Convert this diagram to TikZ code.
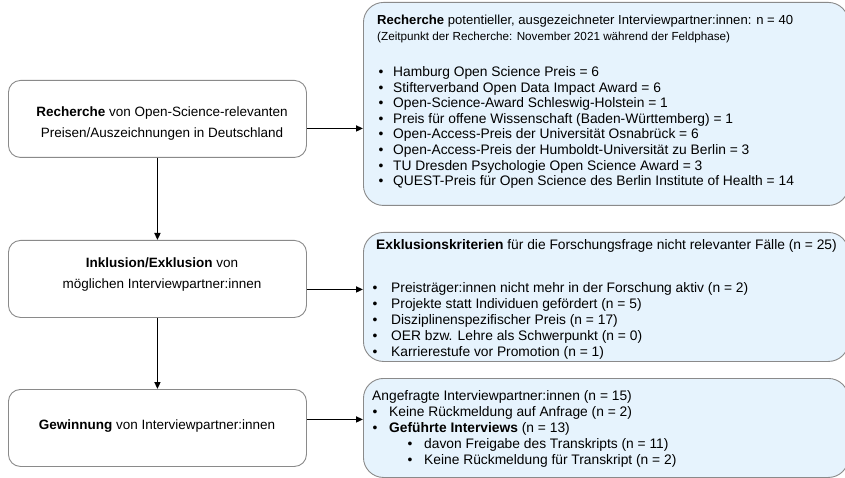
\documentclass[tikz,border=0pt]{standalone}
\usepackage{fontspec}
\setmainfont{Liberation Sans}
\usetikzlibrary{arrows.meta}
\definecolor{boxfill}{HTML}{E6F3FD}
\definecolor{boxline}{HTML}{8A8A8A}
\begin{document}
\begin{tikzpicture}[x=1pt,y=-1pt,
 lbox/.style={draw=boxline, line width=0.9pt, rounded corners=12pt, fill=white, minimum width=298pt, minimum height=77pt, inner sep=0, anchor=north west},
 rbox/.style={draw=boxline, line width=0.9pt, rounded corners=20pt, fill=boxfill, inner sep=0, anchor=north west, minimum width=485pt},
 ltext/.style={font=\fontsize{13.5}{21}\selectfont, align=center, inner sep=0},
 rt/.style={font=\fontsize{13.8}{15.6}\selectfont, anchor=base west, inner sep=0},
 tt/.style={font=\fontsize{13.1}{15.6}\selectfont, anchor=base west, inner sep=0},
 st/.style={font=\fontsize{11.7}{13}\selectfont, anchor=base west, inner sep=0},
 bul/.style={font=\fontsize{13.8}{15.6}\selectfont, anchor=base, inner sep=0},
 arr/.style={-{Triangle[length=7pt,width=6pt]}, line width=1.6pt, black}]
\useasboundingbox (0,0) rectangle (845,478);
% left boxes
\node[lbox] (l1) at (8,80) {};
\node[lbox] (l2) at (8,240) {};
\node[lbox] (l3) at (8,389) {};
\node[ltext] (l1t) at (162,123.5) {\textbf{Recherche} von Open-Science-relevanten\\Preisen/Auszeichnungen in Deutschland};
\node[ltext] (l2t) at (162,274.5) {\textbf{Inklusion/Exklusion} von\\möglichen Interviewpartner:innen};
\node[ltext] (l3t) at (157,426) {\textbf{Gewinnung} von Interviewpartner:innen};
% right boxes
\node[rbox, minimum height=203pt] (r1) at (363,2) {};
\node[rbox, minimum height=129pt] (r2) at (363,232) {};
\node[rbox, minimum height=99pt] (r3) at (363,378) {};
% box 1 text
\node[tt] (r1a) at (377,25) {\textbf{Recherche} potentieller, ausgezeichneter Interviewpartner:innen: n = 40};
\node[st] (r1b) at (377,41) {(Zeitpunkt der Recherche: November 2021 während der Feldphase)};
\node[bul] (b11) at (381,76.5) {•};
\node[rt] (r11) at (393,76.5) {Hamburg Open Science Preis = 6};
\node[bul] (b12) at (381,92.1) {•};
\node[rt] (r12) at (393,92.1) {Stifterverband Open Data Impact Award = 6};
\node[bul] (b13) at (381,107.7) {•};
\node[rt] (r13) at (393,107.7) {Open-Science-Award Schleswig-Holstein = 1};
\node[bul] (b14) at (381,123.3) {•};
\node[rt] (r14) at (393,123.3) {Preis für offene Wissenschaft (Baden-Württemberg) = 1};
\node[bul] (b15) at (381,138.9) {•};
\node[rt] (r15) at (393,138.9) {Open-Access-Preis der Universität Osnabrück = 6};
\node[bul] (b16) at (381,154.5) {•};
\node[rt] (r16) at (393,154.5) {Open-Access-Preis der Humboldt-Universität zu Berlin = 3};
\node[bul] (b17) at (381,170.1) {•};
\node[rt] (r17) at (393,170.1) {TU Dresden Psychologie Open Science Award = 3};
\node[bul] (b18) at (381,185.7) {•};
\node[rt] (r18) at (393,185.7) {QUEST-Preis für Open Science des Berlin Institute of Health = 14};
% box 2 text
\node[rt] (r2a) at (376,249.5) {\textbf{Exklusionskriterien} für die Forschungsfrage nicht relevanter Fälle (n = 25)};
\node[bul] (b21) at (375,292.5) {•};
\node[rt] (r21) at (391,292.5) {Preisträger:innen nicht mehr in der Forschung aktiv (n = 2)};
\node[bul] (b22) at (375,308.5) {•};
\node[rt] (r22) at (391,308.5) {Projekte statt Individuen gefördert (n = 5)};
\node[bul] (b23) at (375,324.5) {•};
\node[rt] (r23) at (391,324.5) {Disziplinenspezifischer Preis (n = 17)};
\node[bul] (b24) at (375,340.5) {•};
\node[rt] (r24) at (391,340.5) {OER bzw. Lehre als Schwerpunkt (n = 0)};
\node[bul] (b25) at (375,356.5) {•};
\node[rt] (r25) at (391,356.5) {Karrierestufe vor Promotion (n = 1)};
% box 3 text
\node[rt] (r3a) at (372,400.5) {Angefragte Interviewpartner:innen (n = 15)};
\node[bul] (b31) at (375,416.5) {•};
\node[rt] (r31) at (389,416.5) {Keine Rückmeldung auf Anfrage (n = 2)};
\node[bul] (b32) at (375,432.5) {•};
\node[rt] (r32) at (389,432.5) {\textbf{Geführte Interviews} (n = 13)};
\node[bul] (b33) at (410,448.5) {•};
\node[rt] (r33) at (424,448.5) {davon Freigabe des Transkripts (n = 11)};
\node[bul] (b34) at (410,464.5) {•};
\node[rt] (r34) at (424,464.5) {Keine Rückmeldung für Transkript (n = 2)};
% connectors
\draw[arr] ([yshift=-9.5pt]l1.east) -- ([yshift=-9.5pt]l1.east -| r1.west);
\draw[arr] ([yshift=-10.5pt]l2.east) -- ([yshift=-10.5pt]l2.east -| r2.west);
\draw[arr] ([yshift=8.5pt]l3.east) -- ([yshift=8.5pt]l3.east -| r3.west);
\draw[arr] (l1.south) -- (l2.north);
\draw[arr] (l2.south) -- (l3.north);
\end{tikzpicture}
\end{document}
